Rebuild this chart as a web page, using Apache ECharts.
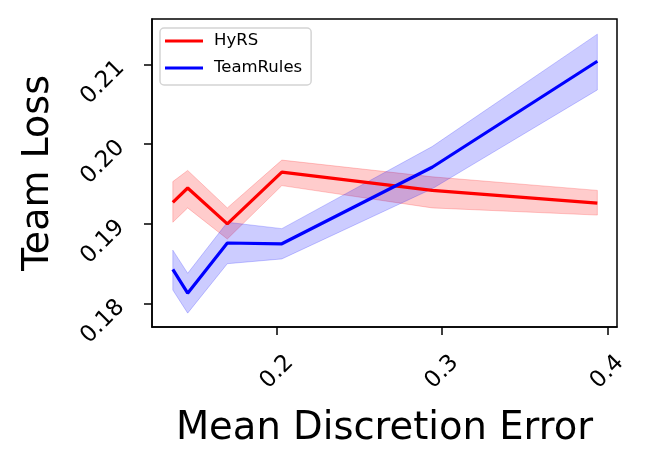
<!DOCTYPE html>
<html>
<head>
<meta charset="utf-8">
<script src="https://cdn.jsdelivr.net/npm/echarts@6/dist/echarts.min.js"></script>
<style>
  html, body { margin: 0; padding: 0; background: #fff; }
  #chart { width: 652px; height: 467px; }
</style>
</head>
<body>
<div id="chart"></div>
<script>
// x positions (mean discretion error)
var xVals = [0.137, 0.146, 0.170, 0.203, 0.294, 0.394];

// HyRS
var hyrsMean = [0.1927, 0.1945, 0.1900, 0.1965, 0.1942, 0.1926];
var hyrsLow  = [0.1902, 0.1920, 0.1881, 0.1948, 0.1920, 0.1911];
var hyrsHigh = [0.1953, 0.1967, 0.1920, 0.1980, 0.1959, 0.1942];

// TeamRules
var teamMean = [0.1843, 0.1813, 0.1876, 0.1875, 0.1971, 0.2104];
var teamLow  = [0.1817, 0.1788, 0.1850, 0.1856, 0.1944, 0.2068];
var teamHigh = [0.1867, 0.1838, 0.1902, 0.1894, 0.1997, 0.2138];

var xTicks = [0.2, 0.3, 0.4];
var yTicks = [0.18, 0.19, 0.20, 0.21];

var font = 'DejaVu Sans';

function pairs(ys) {
    var out = [];
    for (var i = 0; i < xVals.length; i++) {
        out.push([xVals[i], ys[i]]);
    }
    return out;
}

// shaded band as one polygon: upper edge forward, lower edge back
function band(lo, hi, rgba) {
    var rows = [];
    for (var i = 0; i < xVals.length; i++) {
        rows.push([xVals[i], lo[i], hi[i]]);
    }
    return {
        type: 'custom',
        silent: true,
        data: rows,
        encode: { x: 0, y: [1, 2] },
        renderItem: function (params, api) {
            if (params.dataIndex !== 0) return null;
            var pts = [];
            for (var i = 0; i < rows.length; i++) {
                pts.push(api.coord([rows[i][0], rows[i][2]]));
            }
            for (var j = rows.length - 1; j >= 0; j--) {
                pts.push(api.coord([rows[j][0], rows[j][1]]));
            }
            return {
                type: 'polygon',
                shape: { points: pts },
                style: { fill: rgba, stroke: rgba, lineWidth: 1 }
            };
        }
    };
}

var chart = echarts.init(document.getElementById('chart'));

var series = [
    band(hyrsLow, hyrsHigh, 'rgba(255,0,0,0.2)'),
    {
        name: 'HyRS',
        type: 'line',
        data: pairs(hyrsMean),
        showSymbol: false,
        color: '#ff0000',
        lineStyle: { color: '#ff0000', width: 3.2 }
    },
    band(teamLow, teamHigh, 'rgba(0,0,255,0.2)'),
    {
        name: 'TeamRules',
        type: 'line',
        data: pairs(teamMean),
        showSymbol: false,
        color: '#0000ff',
        lineStyle: { color: '#0000ff', width: 3.2 }
    }
];

var option = {
    animation: false,
    backgroundColor: '#fff',
    textStyle: { fontFamily: font },
    grid: {
        left: 152,
        right: 35,
        top: 19,
        bottom: 140,
        show: true,
        borderColor: '#000',
        borderWidth: 1.5,
        backgroundColor: 'transparent'
    },
    legend: {
        data: ['HyRS', 'TeamRules'],
        orient: 'vertical',
        left: 160,
        top: 28,
        icon: 'rect',
        itemWidth: 38,
        itemHeight: 3,
        itemGap: 9,
        padding: [4, 9, 8, 5],
        backgroundColor: 'rgba(255,255,255,0.8)',
        borderColor: '#d4d4d4',
        borderWidth: 1.5,
        borderRadius: 4,
        textStyle: {
            fontFamily: font,
            fontSize: 16.5,
            color: '#000',
            lineHeight: 18,
            padding: [0, 0, 0, 6]
        }
    },
    xAxis: {
        type: 'value',
        min: 0.1244,
        max: 0.4059,
        name: 'Mean Discretion Error',
        nameLocation: 'middle',
        nameGap: 82,
        nameTextStyle: { fontFamily: font, fontSize: 38.5, color: '#000' },
        splitLine: { show: false },
        axisLine: { show: true, lineStyle: { color: '#000', width: 1.5 } },
        axisTick: {
            show: true,
            inside: false,
            length: 8,
            lineStyle: { color: '#000', width: 1.5 },
            customValues: xTicks
        },
        axisLabel: {
            rotate: 45,
            align: 'center',
            verticalAlign: 'middle',
            margin: 45,
            fontFamily: font,
            fontSize: 23,
            color: '#000',
            customValues: xTicks,
            formatter: function (v) { return v.toFixed(1); }
        }
    },
    yAxis: {
        type: 'value',
        min: 0.17706,
        max: 0.2157,
        name: 'Team Loss',
        nameLocation: 'middle',
        nameGap: 95,
        nameTextStyle: { fontFamily: font, fontSize: 38, color: '#000' },
        splitLine: { show: false },
        axisLine: { show: true, lineStyle: { color: '#000', width: 1.5 } },
        axisTick: {
            show: true,
            inside: false,
            length: 8,
            lineStyle: { color: '#000', width: 1.5 },
            customValues: yTicks
        },
        axisLabel: {
            rotate: 45,
            margin: 31,
            fontFamily: font,
            fontSize: 23,
            color: '#000',
            customValues: yTicks,
            formatter: function (v) { return v.toFixed(2); }
        }
    },
    series: series
};

chart.setOption(option);
</script>
</body>
</html>
